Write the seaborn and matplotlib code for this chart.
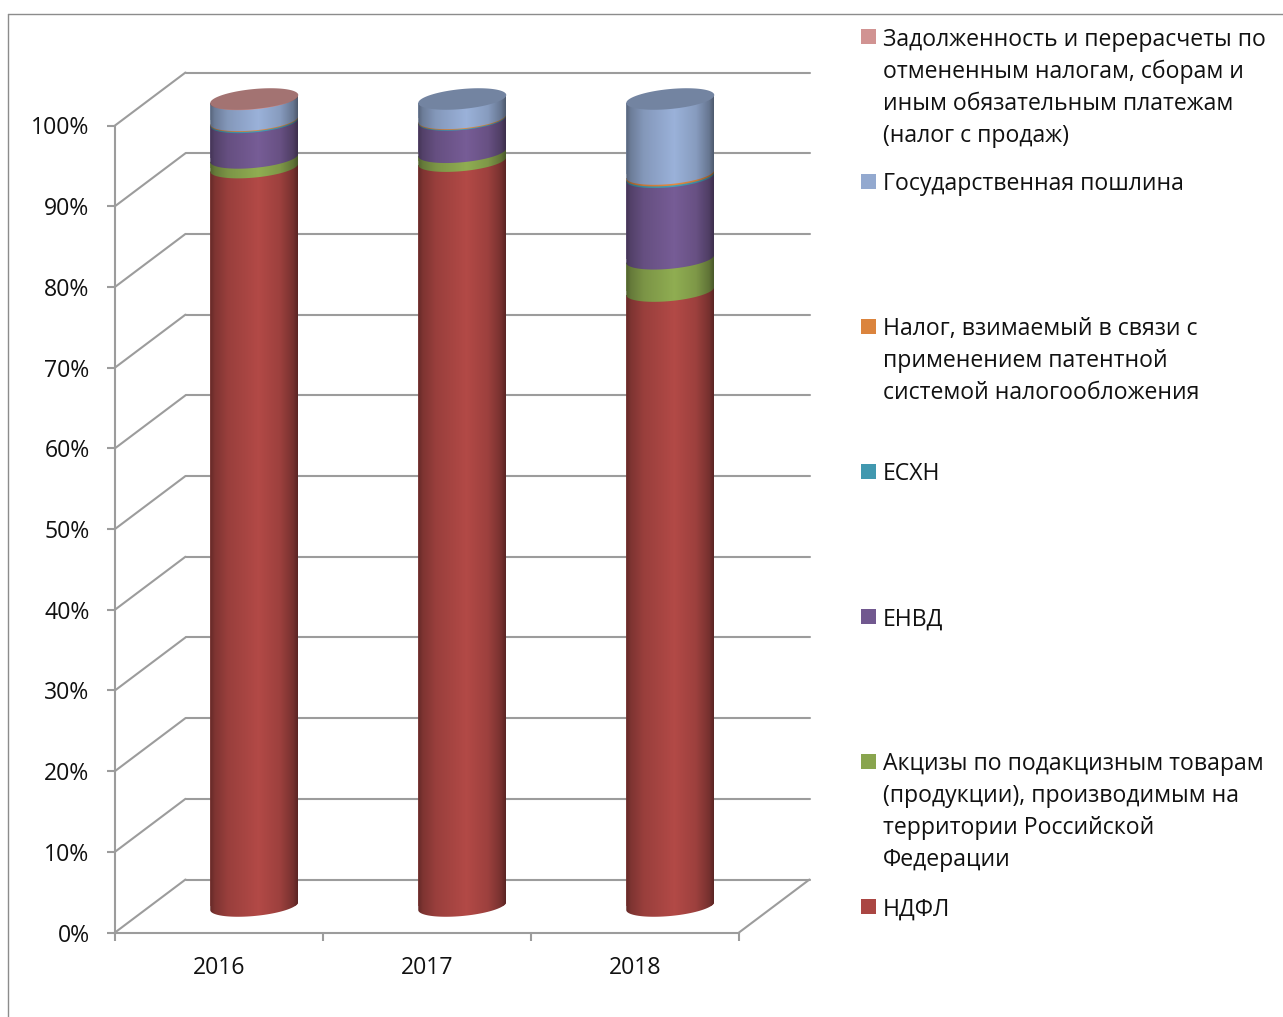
import numpy as np
import pandas as pd
import matplotlib
matplotlib.use("Agg")
import matplotlib.pyplot as plt
from matplotlib.lines import Line2D
from matplotlib.patches import Rectangle, PathPatch
from matplotlib.path import Path
import seaborn as sns

years = ["2016", "2017", "2018"]
ndfl = [91.5, 92.3, 76.2]
akcizy = [1.2, 1.1, 4.0]
envd = [4.4, 4.0, 10.1]
eshn = [0.15, 0.1, 0.2]
patent = [0.1, 0.1, 0.2]
gosposhlina = [2.6, 2.4, 9.3]
zadolzhennost = [0.05, 0.0, 0.0]

series_values = [ndfl, akcizy, envd, eshn, patent, gosposhlina, zadolzhennost]
series_colors = ["#AA4643", "#89A54E", "#71588F", "#4198AF", "#DB843D", "#93A9CF", "#D19392"]
legend_labels = [
    "НДФЛ",
    "Акцизы по подакцизным товарам\n(продукции), производимым на\nтерритории Российской\nФедерации",
    "ЕНВД",
    "ЕСХН",
    "Налог, взимаемый в связи с\nприменением патентной\nсистемой налогообложения",
    "Государственная пошлина",
    "Задолженность и перерасчеты по\nотмененным налогам, сборам и\nиным обязательным платежам\n(налог с продаж)",
]
legend_y_px = [906.5, 761.5, 616.5, 471.5, 326.5, 181.5, 36.5]
y_ticks = list(range(0, 101, 10))
y_labels = [f"{v}%" for v in y_ticks]

W, H = 1283, 1017
FONT = "Open Sans"
FS = 16.6
GRID = "#9C9C9C"
LW = 1.5

sns.set_theme(style="white")
plt.rcParams["font.family"] = [FONT, "DejaVu Sans"]
plt.rcParams["text.color"] = "#111111"

fig = plt.figure(figsize=(W / 100, H / 100), dpi=100, facecolor="white")


def axes_px(left, right, top, bottom, z):
    ax = fig.add_axes([left / W, (H - bottom) / H, (right - left) / W, (bottom - top) / H], zorder=z)
    ax.patch.set_alpha(0)
    ax.set_xlim(-0.5, 2.5)
    ax.set_ylim(0, 100)
    return ax


X0, X1, Y100, Y0 = 115, 739, 125.5, 932.5
DEPTH_X, DEPTH_Y = 70.5, 53
px_x = (X1 - X0) / 3
px_y = (Y0 - Y100) / 100

# back wall gridlines
ax_back = axes_px(X0 + DEPTH_X, X1 + DEPTH_X, Y100 - DEPTH_Y, Y0 - DEPTH_Y, 0)
ax_back.set_yticks(y_ticks)
ax_back.set_xticks([])
ax_back.set_yticklabels([])
ax_back.tick_params(length=0)
for s in ax_back.spines.values():
    s.set_visible(False)
ax_back.grid(True, axis="y", color=GRID, lw=LW)
for g in ax_back.get_ygridlines():
    g.set_clip_on(False)

# front axes with ticks and depth diagonals
ax = axes_px(X0, X1, Y100, Y0, 1)
for name in ("top", "right"):
    ax.spines[name].set_visible(False)
for name in ("left", "bottom"):
    ax.spines[name].set_color(GRID)
    ax.spines[name].set_linewidth(LW)
ax.set_yticks(y_ticks)
ax.set_yticklabels(y_labels, fontsize=FS, color="#111111")
ax.set_xticks([-0.5, 0.5, 1.5, 2.5])
ax.set_xticklabels([])
ax.set_xticks([0, 1, 2], labels=years, minor=True, fontsize=FS, color="#111111")
ax.tick_params(axis="both", which="major", length=5.8, width=LW, color=GRID, left=True, bottom=True)
ax.tick_params(axis="y", pad=12.5)
ax.tick_params(axis="x", which="minor", length=0, pad=17, bottom=True)
dx_data = DEPTH_X / px_x
dy_data = DEPTH_Y / px_y
for v in y_ticks:
    ax.plot([-0.5, -0.5 + dx_data], [v, v + dy_data], color=GRID, lw=LW, clip_on=False, solid_capstyle="round")
ax.plot([2.5, 2.5 + dx_data], [0, dy_data], color=GRID, lw=LW, clip_on=False, solid_capstyle="round")

# cylinders: drawn in axes shifted half the depth
ax_bar = axes_px(X0 + DEPTH_X / 2, X1 + DEPTH_X / 2, Y100 - DEPTH_Y / 2, Y0 - DEPTH_Y / 2, 2)
ax_bar.axis("off")
BAR_W = 88 / px_x
A, E, S = BAR_W / 2, 10.0 / px_y, 4.0 / px_y
theta = np.linspace(np.pi, 2 * np.pi, 50)
shade_x = [0, 0.05, 0.2, 0.55, 0.8, 0.95, 1]
shade_v = [0.6, 0.74, 0.9, 1.05, 0.92, 0.7, 0.54]
shade = np.interp(np.linspace(0, 1, 88), shade_x, shade_v)


def segment_path(cx, low, high):
    xs = cx + A * np.cos(theta)
    ys = low + S * np.cos(theta) + E * np.sin(theta)
    xs = np.r_[xs, cx + A, cx - A, xs[0]]
    ys = np.r_[ys, high + S, high - S, ys[0]]
    return Path(np.column_stack([xs, ys]))


bottoms = np.zeros(3)
for vals, color in zip(series_values, series_colors):
    df = pd.DataFrame({"year": years, "value": vals})
    n_before = len(ax_bar.patches)
    sns.barplot(data=df, x="year", y="value", order=years, color=color, saturation=1,
                width=BAR_W, bottom=bottoms, ax=ax_bar, linewidth=0)
    new_bars = ax_bar.patches[n_before:]
    rgb = np.array(matplotlib.colors.to_rgb(color))
    grad = np.clip(rgb[None, None, :] * shade[None, :, None], 0, 1)
    for bar in new_bars:
        h = bar.get_height()
        if h <= 0:
            bar.set_visible(False)
            continue
        cx = bar.get_x() + bar.get_width() / 2
        low = bar.get_y()
        path = segment_path(cx, low, low + h)
        bar.set_clip_box(fig.bbox)
        bar.set_clip_path(path, ax_bar.transData)
        im = ax_bar.imshow(grad, extent=[cx - A, cx + A, low - 2 * E, low + h + 2 * E], aspect="auto",
                           interpolation="bilinear", zorder=3)
        im.set_clip_box(fig.bbox)
        im.set_clip_path(path, ax_bar.transData)
    bottoms = bottoms + np.array(vals)

# top caps in the darker tone of the uppermost series
full_theta = np.linspace(0, 2 * np.pi, 100)
for i, total in enumerate(bottoms):
    top_color = next(c for vals, c in zip(series_values[::-1], series_colors[::-1]) if vals[i] > 0)
    cap = np.array(matplotlib.colors.to_rgb(top_color)) * 0.78
    xs = i + A * np.cos(full_theta)
    ys = total + S * np.cos(full_theta) + E * np.sin(full_theta)
    ax_bar.add_patch(PathPatch(Path(np.column_stack([xs, ys])), facecolor=cap, edgecolor="none",
                               zorder=4, clip_on=False))
ax_bar.set_xlim(-0.5, 2.5)
ax_bar.set_ylim(0, 100)
ax_bar.set_xlabel("")
ax_bar.set_ylabel("")

# legend
for label, y, color in zip(legend_labels, legend_y_px, series_colors):
    fig.add_artist(Rectangle((861 / W, (H - y - 7.5) / H), 15 / W, 15 / H, transform=fig.transFigure,
                             facecolor=color, edgecolor="none"))
    fig.text(883 / W, (H - y + 9) / H, label, fontsize=FS, va="top", ha="left", color="#111111",
             linespacing=1.44)

# outer chart frame
FRAME = "#8C8C8C"
fig.add_artist(Line2D([8 / W, 1], [(H - 13.5) / H] * 2, color=FRAME, lw=1.0, transform=fig.transFigure))
fig.add_artist(Line2D([8 / W, 8 / W], [0, (H - 13.5) / H], color=FRAME, lw=1.0, transform=fig.transFigure))

fig.savefig("out.png", dpi=100, facecolor="white")
